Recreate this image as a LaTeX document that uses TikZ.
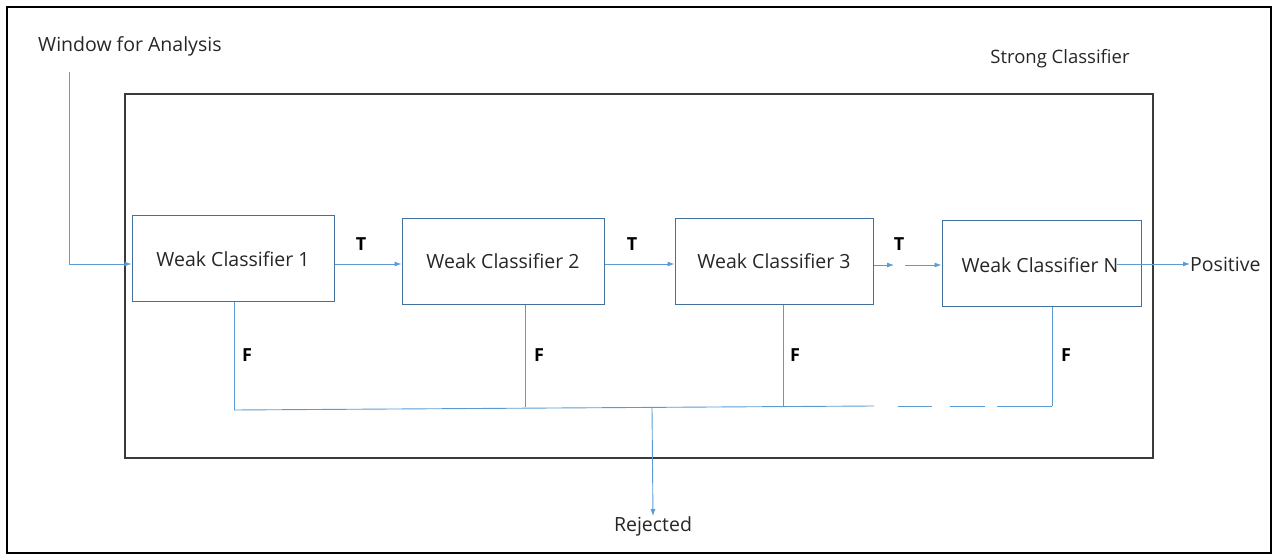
\documentclass[tikz,border=0pt]{standalone}
\usepackage{fontspec}
\setmainfont{Open Sans}
\usetikzlibrary{arrows.meta}
\definecolor{lineblue}{HTML}{5B9BD5}
\definecolor{boxblue}{HTML}{41719C}
\definecolor{txt}{HTML}{262626}
\definecolor{frame}{HTML}{3A3A3A}
\tikzset{
  wbox/.style={draw=boxblue, line width=1pt, minimum width=#1, minimum height=86pt, inner sep=0pt, font=\fontsize{19.5}{22}\selectfont, text=txt},
  wbox/.default=202pt,
  flow/.style={draw=lineblue, line width=0.9pt},
  arr/.style={flow, -{Latex[length=7pt,width=5pt]}},
  lbl/.style={font=\bfseries\fontsize{18}{20}\selectfont, text=black, inner sep=0pt},
  plain/.style={font=\fontsize{19.5}{22}\selectfont, text=txt, inner sep=0pt},
}
\begin{document}
\begin{tikzpicture}[x=1pt,y=-1pt]
\useasboundingbox (0,0) rectangle (1278,556);
% outer frame
\draw[black, line width=2.6pt] (7,7) rectangle (1271,553);
% strong classifier box
\node[draw=frame, line width=1.4pt, minimum width=1028pt, minimum height=364pt, inner sep=0pt] (strong) at (639,276) {};
\node[plain, font=\fontsize{18.5}{21}\selectfont] (stronglbl) at (1060,59) {Strong Classifier};
\node[plain, anchor=west] (win) at (38,46) {Window for Analysis};
% weak classifiers
\node[wbox] (w1) at (233,259) {Weak Classifier 1};
\node[wbox] (w2) at (503,261.5) {Weak Classifier 2};
\node[wbox=198pt] (w3) at (774,261.5) {Weak Classifier 3};
\node[wbox=199pt] (wn) at (1041.5,264) {};
\node[plain] (wnt) at (1040,265) {Weak Classifier N};
\node[plain, anchor=west] (pos) at (1190,264) {Positive};
\node[plain] (rej) at (653,526) {Rejected};
% input
\coordinate (in0) at (69,72);
\coordinate (in1) at (69,264);
\draw[arr] (in0) -- (in1) -- (w1.west |- in1);
% T arrows
\draw[arr] (w1.east |- 0,264) -- (w2.west |- 0,264);
\node[lbl] (t1) at (361,244) {T};
\draw[arr] (w2.east |- 0,264) -- (w3.west |- 0,264);
\node[lbl] (t2) at (632,244) {T};
\coordinate (g1) at (894,265);
\coordinate (g2) at (905,265);
\draw[arr] (w3.east |- g1) -- (g1);
\draw[arr] (g2) -- (wn.west |- g2);
\node[lbl] (t3) at (899,244) {T};
\coordinate (pstart) at (1117,264);
\draw[arr] (pstart) -- (pos.west);
% F lines
\coordinate (b1) at (234,410);
\coordinate (b2) at (525,407);
\coordinate (b3) at (783,406.5);
\coordinate (b4) at (1052,406);
\coordinate (bm) at (652,408);
\coordinate (bs) at (874,406);
\draw[flow] (w1.south -| b1) -- (b1);
\draw[flow] (w2.south -| b2) -- (b2);
\draw[flow] (w3.south -| b3) -- (b3);
\draw[flow] (wn.south -| b4) -- (b4);
\draw[flow] (b1) -- (bs);
\draw[flow] (898,406) -- (932,406) (950,406) -- (985,406) (997,406) -- (b4);
\node[lbl] (f1) at (247,355) {F};
\node[lbl] (f2) at (539,355) {F};
\node[lbl] (f3) at (795,355) {F};
\node[lbl] (f4) at (1066,355) {F};
% rejected
\draw[arr] (bm) -- (rej.north);
\end{tikzpicture}
\end{document}
